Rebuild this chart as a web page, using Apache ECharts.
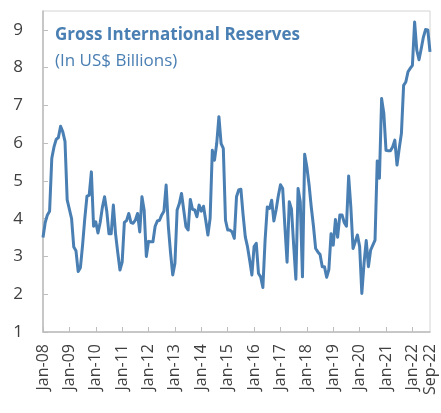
<!DOCTYPE html>
<html>
<head>
<meta charset="utf-8">
<script src="https://cdn.jsdelivr.net/npm/echarts@6/dist/echarts.min.js"></script>
<style>
  html, body { margin: 0; padding: 0; background: #fff; }
  #chart { width: 441px; height: 413px; }
</style>
</head>
<body>
<div id="chart"></div>
<script>
// monthly gross international reserves, US$ bn, Jan-08 .. Sep-22
const r2008 = [3.5, 3.9, 4.1, 4.2, 5.6, 5.9, 6.1, 6.15, 6.45, 6.3, 6.05, 4.5];
const r2009 = [4.25, 4.0, 3.25, 3.15, 2.6, 2.7, 3.3, 4.0, 4.6, 4.62, 5.24, 3.8];
const r2010 = [3.92, 3.62, 3.9, 4.3, 4.58, 4.2, 3.6, 3.6, 4.36, 3.6, 3.1, 2.64];
const r2011 = [2.85, 3.9, 3.95, 4.14, 3.9, 3.88, 3.96, 4.14, 3.65, 4.58, 4.23, 3.0];
const r2012 = [3.4, 3.39, 3.39, 3.8, 3.94, 3.96, 4.1, 4.2, 4.89, 3.8, 3.1, 2.51];
const r2013 = [2.82, 4.23, 4.4, 4.67, 4.23, 3.79, 3.7, 4.51, 4.25, 4.23, 4.05, 4.36];
const r2014 = [4.2, 4.33, 3.96, 3.57, 4.01, 5.81, 5.55, 5.99, 6.7, 5.99, 5.86, 3.96];
const r2015 = [3.7, 3.7, 3.65, 3.48, 4.58, 4.76, 4.78, 4.1, 3.52, 3.26, 2.9, 2.51];
const r2016 = [3.26, 3.35, 2.55, 2.46, 2.18, 3.43, 4.31, 4.27, 4.49, 3.94, 4.23, 4.6];
const r2017 = [4.9, 4.8, 3.8, 2.85, 4.45, 4.25, 3.3, 2.4, 4.8, 4.45, 2.46, 5.71];
const r2018 = [5.37, 4.9, 4.31, 3.8, 3.21, 3.12, 3.05, 2.73, 2.73, 2.45, 2.65, 3.6];
const r2019 = [3.3, 3.98, 3.51, 4.1, 4.1, 3.9, 3.8, 5.13, 4.31, 3.21, 3.39, 3.57];
const r2020 = [3.26, 2.02, 2.82, 3.42, 2.73, 3.17, 3.3, 3.43, 5.53, 5.07, 7.18, 6.79];
const r2021 = [5.81, 5.8, 5.8, 5.9, 6.08, 5.42, 5.86, 6.26, 7.53, 7.62, 7.89, 7.98];
const r2022 = [8.06, 9.21, 8.46, 8.21, 8.5, 8.81, 9.01, 9.0, 8.42];

const years = ['08','09','10','11','12','13','14','15','16','17','18','19','20','21','22'];
const monthNames = ['Jan','Feb','Mar','Apr','May','Jun','Jul','Aug','Sep','Oct','Nov','Dec'];
const yTicks = [1, 2, 3, 4, 5, 6, 7, 8, 9];

const values = [].concat(r2008, r2009, r2010, r2011, r2012, r2013, r2014, r2015,
  r2016, r2017, r2018, r2019, r2020, r2021, r2022);

let months = [];
for (let y = 0; y < years.length; y++) {
  for (let m = 0; m < 12; m++) {
    months.push(monthNames[m] + '-' + years[y]);
  }
}
months = months.slice(0, values.length);
const last = months.length - 1;

const blue = '#4a7fb3';
const font = '"Open Sans", "Noto Sans", sans-serif';

let option = {
  animation: false,
  title: {
    text: 'Gross International Reserves',
    subtext: '(In US$ Billions)',
    left: 50,
    top: 19,
    itemGap: 5,
    textStyle: { color: blue, fontSize: 17, fontWeight: 'bold', fontFamily: font, lineHeight: 22 },
    subtextStyle: { color: blue, fontSize: 17, fontFamily: font, lineHeight: 20 }
  },
  grid: {
    left: 43, right: 11, top: 11, bottom: 81,
    show: true,
    borderColor: '#d4d4d4',
    borderWidth: 1
  },
  xAxis: {
    type: 'category',
    boundaryGap: false,
    data: months,
    axisLine: { lineStyle: { color: '#bdbdbd', width: 1.5 } },
    axisTick: {
      inside: true,
      length: 5,
      interval: function (i) { return i % 12 === 0; },
      lineStyle: { color: '#bdbdbd' }
    },
    axisLabel: {
      rotate: 90,
      margin: 12,
      fontSize: 16,
      color: '#404040',
      fontFamily: font,
      interval: function (i) { return i % 12 === 0 || i === last; }
    },
    splitLine: { show: false }
  },
  yAxis: {
    type: 'value',
    min: yTicks[0],
    max: 9.5,
    interval: 1,
    axisLine: { show: true, lineStyle: { color: '#bdbdbd', width: 1.5 } },
    axisTick: { show: true, inside: true, length: 5, lineStyle: { color: '#bdbdbd' } },
    axisLabel: {
      margin: 20,
      fontSize: 17,
      color: '#404040',
      fontFamily: font,
      showMaxLabel: false
    },
    splitLine: { show: false }
  },
  series: [{
    type: 'line',
    data: values,
    showSymbol: false,
    lineStyle: { color: blue, width: 3, join: 'round' },
    itemStyle: { color: blue }
  }]
};

let myChart = echarts.init(document.getElementById('chart'));
myChart.setOption(option);
</script>
</body>
</html>
